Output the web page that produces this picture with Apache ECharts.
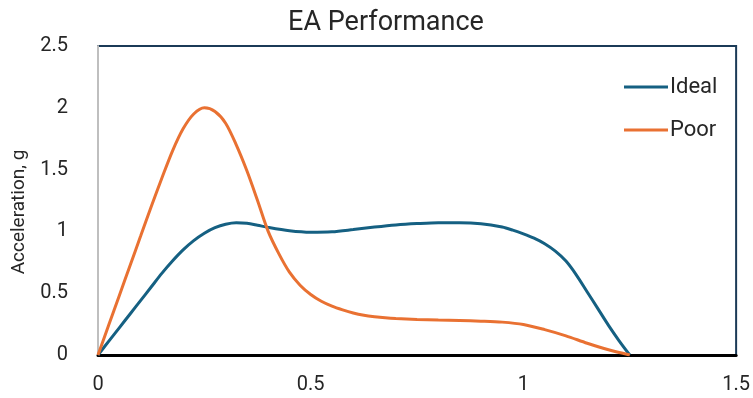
<!DOCTYPE html>
<html>
<head>
<meta charset="utf-8">
<script src="https://cdn.jsdelivr.net/npm/echarts@6/dist/echarts.min.js"></script>
<style>
  html, body { margin: 0; padding: 0; background: #fff; }
  #chart { width: 753px; height: 398px; }
</style>
</head>
<body>
<div id="chart"></div>
<script>
// Displacement vs. acceleration (g) for two energy-absorber profiles
const idealX = [0, 0.025, 0.05, 0.075, 0.1, 0.125, 0.15, 0.175, 0.2, 0.225, 0.25, 0.275, 0.3,
                0.325, 0.35, 0.375, 0.4, 0.45, 0.5, 0.55, 0.6, 0.65, 0.7, 0.75, 0.8, 0.85,
                0.9, 0.95, 0.975, 1.0, 1.025, 1.05, 1.075, 1.1, 1.125, 1.15, 1.175, 1.2, 1.225, 1.25];
const idealY = [0, 0.11, 0.22, 0.33, 0.44, 0.55, 0.66, 0.76, 0.85, 0.925, 0.985, 1.03, 1.058,
                1.07, 1.066, 1.05, 1.032, 1.005, 0.993, 0.997, 1.015, 1.035, 1.052, 1.063, 1.07, 1.07,
                1.062, 1.035, 1.01, 0.98, 0.945, 0.9, 0.84, 0.76, 0.645, 0.51, 0.375, 0.24, 0.115, 0];
const poorX = [0, 0.025, 0.05, 0.075, 0.1, 0.125, 0.15, 0.175, 0.2, 0.225, 0.25, 0.275, 0.3,
               0.325, 0.35, 0.375, 0.4, 0.425, 0.45, 0.475, 0.5, 0.525, 0.55, 0.575, 0.6, 0.625,
               0.65, 0.675, 0.7, 0.75, 0.8, 0.85, 0.9, 0.95, 1.0, 1.05, 1.1, 1.15, 1.2, 1.25];
const poorY = [0, 0.24, 0.48, 0.72, 0.96, 1.2, 1.43, 1.65, 1.83, 1.95, 2.0, 1.97, 1.875,
               1.7, 1.49, 1.25, 1.0, 0.82, 0.67, 0.565, 0.49, 0.435, 0.395, 0.365, 0.34, 0.322,
               0.31, 0.301, 0.295, 0.288, 0.283, 0.279, 0.274, 0.266, 0.247, 0.205, 0.155, 0.095, 0.042, 0];
const xTicks = [0, 0.5, 1, 1.5];
const yTicks = [0, 0.5, 1, 1.5, 2, 2.5];
const yTitle = 'Acceleration, g';

const FONT = 'Roboto, "Liberation Sans", sans-serif';
const TEXT = '#262626';
const pairs = (xs, ys) => xs.map((x, i) => [x, ys[i]]);

const chart = echarts.init(document.getElementById('chart'), null, { renderer: 'canvas' });
chart.setOption({
  animation: false,
  title: {
    text: 'EA Performance',
    left: 381, top: 5, textAlign: 'center',
    textStyle: { fontFamily: FONT, fontSize: 27, fontWeight: 'normal', color: TEXT }
  },
  legend: {
    orient: 'vertical',
    left: 619, top: 71,
    itemWidth: 44, itemHeight: 3, itemGap: 21,
    icon: 'rect',
    textStyle: { fontFamily: FONT, fontSize: 22, color: TEXT, padding: [0, 0, 0, -3] },
    data: ['Ideal', 'Poor']
  },
  graphic: [{
    type: 'text', x: 19, y: 212, rotation: Math.PI / 2,
    style: {
      text: yTitle, fontFamily: FONT, fontSize: 19, fill: TEXT,
      align: 'center', verticalAlign: 'middle'
    }
  }],
  grid: {
    left: 98, right: 16, top: 46, bottom: 43,
    show: true, borderColor: '#1b3a57', borderWidth: 2, backgroundColor: 'transparent'
  },
  xAxis: {
    type: 'value', min: 0, max: 1.5, interval: 0.5,
    axisLine: { show: true, onZero: false, lineStyle: { color: '#000', width: 3 } },
    axisTick: { show: false },
    splitLine: { show: false },
    axisLabel: {
      margin: 20, color: TEXT, fontFamily: FONT, fontSize: 20,
      formatter: v => xTicks.includes(v) ? String(v) : ''
    }
  },
  yAxis: {
    type: 'value', min: 0, max: 2.5, interval: 0.5,
    axisLine: { show: true, lineStyle: { color: '#bfbfbf', width: 2 } },
    axisTick: { show: false },
    splitLine: { show: false },
    axisLabel: {
      margin: 30, color: TEXT, fontFamily: FONT, fontSize: 20,
      formatter: v => yTicks.includes(v) ? String(v) : ''
    }
  },
  series: [
    {
      name: 'Ideal', type: 'line', smooth: 0.3, showSymbol: false,
      data: pairs(idealX, idealY),
      lineStyle: { color: '#156082', width: 3 }, itemStyle: { color: '#156082' }
    },
    {
      name: 'Poor', type: 'line', smooth: 0.3, showSymbol: false,
      data: pairs(poorX, poorY),
      lineStyle: { color: '#E97132', width: 3 }, itemStyle: { color: '#E97132' }
    }
  ]
});
</script>
</body>
</html>
